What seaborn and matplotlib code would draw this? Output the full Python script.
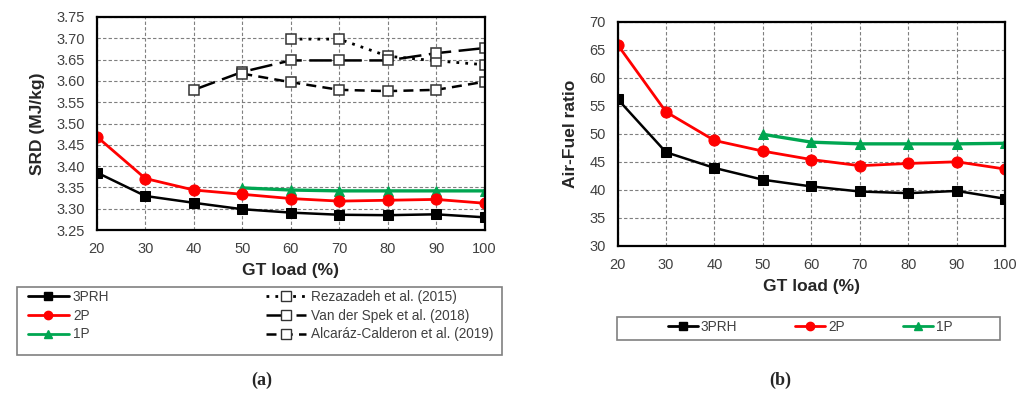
import matplotlib
matplotlib.use("Agg")
import matplotlib.pyplot as plt
import seaborn as sns
import numpy as np
from matplotlib.lines import Line2D
from matplotlib.patches import Rectangle

# ---------------- data ----------------
load = [20, 30, 40, 50, 60, 70, 80, 90, 100]
load_1p = [50, 60, 70, 80, 90, 100]

srd_3prh = [3.385, 3.330, 3.314, 3.299, 3.291, 3.286, 3.285, 3.287, 3.280]
srd_2p = [3.469, 3.371, 3.344, 3.334, 3.324, 3.318, 3.320, 3.322, 3.313]
srd_1p = [3.349, 3.344, 3.342, 3.342, 3.342, 3.342]

rez_load = [60, 70, 80, 90, 100]
rez_srd = [3.698, 3.698, 3.658, 3.647, 3.638]
vds_load = [40, 50, 60, 70, 80, 90, 100]
vds_srd = [3.579, 3.621, 3.648, 3.648, 3.648, 3.665, 3.677]
alc_load = [50, 60, 70, 80, 90, 100]
alc_srd = [3.617, 3.597, 3.579, 3.576, 3.579, 3.598]

afr_3prh = [56.2, 46.7, 43.9, 41.8, 40.6, 39.7, 39.4, 39.8, 38.4]
afr_2p = [65.9, 53.9, 48.8, 46.9, 45.4, 44.3, 44.7, 45.0, 43.7]
afr_1p = [49.9, 48.5, 48.2, 48.2, 48.2, 48.3]

srd_ticks = [3.25, 3.30, 3.35, 3.40, 3.45, 3.50, 3.55, 3.60, 3.65, 3.70, 3.75]
afr_ticks = [30, 35, 40, 45, 50, 55, 60, 65, 70]
x_ticks = [20, 30, 40, 50, 60, 70, 80, 90, 100]

# ---------------- style ----------------
sns.set_theme(style="white")
plt.rcParams['font.family'] = ['Liberation Sans', 'DejaVu Sans']

BLACK = "#000000"
RED = "#ff0000"
GREEN = "#00a651"

fig = plt.figure(figsize=(10.31, 3.94), dpi=100)
ax1 = fig.add_axes([0.094, 0.416, 0.376, 0.541])
ax2 = fig.add_axes([0.599, 0.376, 0.376, 0.569])


def style_ax(ax, yticks, ylabel, fmt):
    ax.set_xlim(20, 100)
    ax.set_ylim(yticks[0], yticks[-1])
    ax.set_xticks(x_ticks)
    ax.set_yticks(yticks)
    ax.set_yticklabels([fmt.format(t) for t in yticks])
    ax.grid(True, color="#7f7f7f", linestyle=(0, (3, 2)), linewidth=0.8)
    for s in ax.spines.values():
        s.set_color("black")
        s.set_linewidth(1.6)
    ax.tick_params(axis="both", labelsize=10.5, colors="#404040", length=0, pad=8.5)
    ax.set_xlabel("GT load (%)", fontsize=12.5, fontweight="bold", color="#262626",
                  labelpad=5)
    ax.set_ylabel(ylabel, fontsize=12.5, fontweight="bold", color="#262626",
                  labelpad=8)


# -------- panel (a) --------
ref_kw = dict(color="black", marker="s", markersize=7.5, markerfacecolor="white",
              markeredgecolor="#333333", markeredgewidth=1.1)
sns.lineplot(x=rez_load, y=rez_srd, ax=ax1, lw=2.0, linestyle=(0, (1, 2.2)), **ref_kw)
sns.lineplot(x=vds_load, y=vds_srd, ax=ax1, lw=1.8, linestyle=(0, (9, 3)), **ref_kw)
sns.lineplot(x=alc_load, y=alc_srd, ax=ax1, lw=1.8, linestyle=(0, (4, 2.5)), **ref_kw)
sns.lineplot(x=load_1p, y=srd_1p, ax=ax1, color=GREEN, lw=2.4, marker="^",
             markersize=7, markeredgecolor=GREEN)
sns.lineplot(x=load, y=srd_2p, ax=ax1, color=RED, lw=2.0, marker="o",
             markersize=8, markeredgecolor=RED)
sns.lineplot(x=load, y=srd_3prh, ax=ax1, color=BLACK, lw=1.8, marker="s",
             markersize=7.5, markeredgecolor=BLACK)
style_ax(ax1, srd_ticks, "SRD (MJ/kg)", "{:.2f}")

# -------- panel (b) --------
sns.lineplot(x=load_1p, y=afr_1p, ax=ax2, color=GREEN, lw=2.4, marker="^",
             markersize=7, markeredgecolor=GREEN)
sns.lineplot(x=load, y=afr_2p, ax=ax2, color=RED, lw=2.0, marker="o",
             markersize=8, markeredgecolor=RED)
sns.lineplot(x=load, y=afr_3prh, ax=ax2, color=BLACK, lw=1.8, marker="s",
             markersize=7.5, markeredgecolor=BLACK)
style_ax(ax2, afr_ticks, "Air-Fuel ratio", "{:d}")

# -------- legends --------
def h(color, marker, ls="-", lw=2.0, face=None, ms=6):
    return Line2D([0], [0], color=color, lw=lw, linestyle=ls, marker=marker,
                  markersize=ms, markerfacecolor=face if face else color,
                  markeredgecolor=color if face is None else "#333333")

h3 = h(BLACK, "s")
h2 = h(RED, "o")
h1 = h(GREEN, "^")
hr = h(BLACK, "s", (0, (1, 2.2)), 2.0, "white", 6.5)
hv = h(BLACK, "s", (0, (9, 3)), 1.8, "white", 6.5)
ha = h(BLACK, "s", (0, (4, 2.5)), 1.8, "white", 6.5)

W, H = 1031, 394

leg1 = fig.legend([h3, h2, h1, hr, hv, ha],
                  ["3PRH", "2P", "1P", "Rezazadeh et al. (2015)",
                   "Van der Spek et al. (2018)", "Alcaráz-Calderon et al. (2019)"],
                  ncol=2, loc="center",
                  bbox_to_anchor=(28 / W, 0.149, (493 - 28) / W, 0.1),
                  mode="expand", fontsize=9.8, frameon=False,
                  handlelength=3.0, handletextpad=0.3,
                  labelspacing=0.35, borderpad=0.0, borderaxespad=0.0)
for t in leg1.get_texts():
    t.set_color("#404040")

leg2 = fig.legend([h3, h2, h1], ["3PRH", "2P", "1P"], ncol=3, loc="center",
                  bbox_to_anchor=(810 / W, 1 - 327 / H), fontsize=9.8, frameon=False,
                  handlelength=2.2, handletextpad=0.2, columnspacing=4.3,
                  borderpad=0.0, borderaxespad=0.0)
for t in leg2.get_texts():
    t.set_color("#404040")

for (x0, y0, x1, y1) in [(17, 287, 502, 355), (617, 317, 1000, 340)]:
    fig.patches.append(Rectangle((x0 / W, 1 - y1 / H), (x1 - x0) / W, (y1 - y0) / H,
                                 transform=fig.transFigure, fill=False,
                                 edgecolor="#808080", linewidth=1.2))

fig.text(262 / W, 1 - 380 / H, "(a)", ha="center", va="center",
         fontsize=13, fontweight="bold", family="Liberation Serif")
fig.text(780 / W, 1 - 380 / H, "(b)", ha="center", va="center",
         fontsize=13, fontweight="bold", family="Liberation Serif")

fig.savefig("out.png", dpi=100)
